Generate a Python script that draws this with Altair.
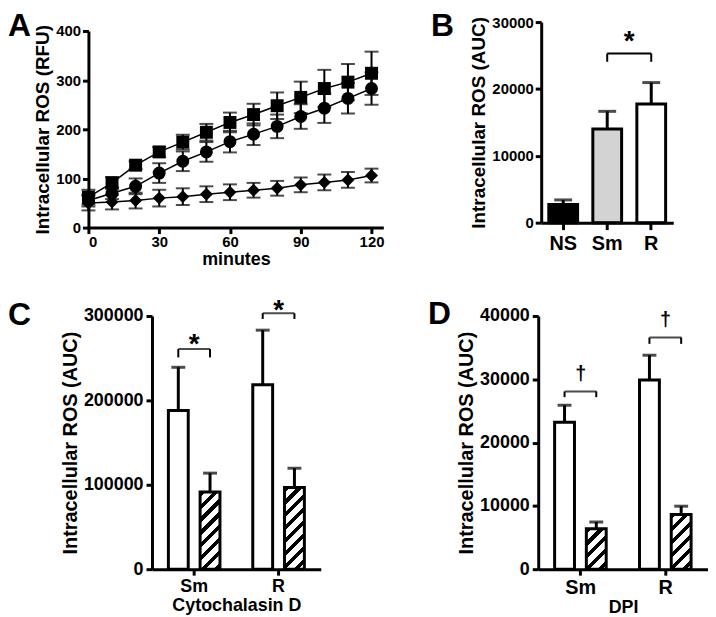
import altair as alt
import pandas as pd

FONT = "Liberation Sans"
INK = "#000000"

# ---------------- Panel A data ----------------
minutes = [0, 10, 20, 30, 40, 50, 60, 70, 80, 90, 100, 110, 120]
sq_mean = [62, 91, 127, 154, 174, 194, 214, 230, 248, 265, 283, 296, 314]
sq_err = [15, 12, 8, 10, 15, 17, 20, 22, 27, 32, 38, 37, 44]
ci_mean = [55, 70, 84, 111, 135, 154, 175, 190, 206, 226, 243, 263, 283]
ci_err = [12, 12, 16, 20, 20, 20, 22, 22, 24, 25, 30, 31, 33]
di_mean = [50, 52, 55, 60, 63, 68, 72, 76, 80, 87, 92, 97, 106]
di_err = [15, 15, 16, 17, 17, 16, 16, 15, 15, 15, 16, 16, 14]
series_names = ["R", "Sm", "NS"]
series_shapes = ["square", "circle", "diamond"]
series_sizes = [170, 170, 64]

# ---------------- Panel B data ----------------
b_cats = ["NS", "Sm", "R"]
b_mean = [2700, 14000, 17750]
b_err = [700, 2650, 3200]
b_fill = ["#000000", "#d3d3d3", "#ffffff"]

# ---------------- Panel C data ----------------
c_cats = ["Sm", "R"]
c_ctrl_mean = [187900, 218500]
c_ctrl_err = [51300, 64700]
c_trt_mean = [91400, 96800]
c_trt_err = [22400, 22800]
c_br_y = [260800, 303200]
c_br_end = [250900, 296500]
c_sym_y = [256000, 297000]

# ---------------- Panel D data ----------------
d_cats = ["Sm", "R"]
d_ctrl_mean = [23200, 29900]
d_ctrl_err = [2700, 3900]
d_trt_mean = [6400, 8650]
d_trt_err = [1050, 1300]
d_br_y = [28080, 36600]
d_br_end = [27180, 35600]
d_sym_y = [29850, 38480]


def axis_kw(label_size, title_size, **kw):
    d = dict(domainColor=INK, domainWidth=3, tickColor=INK, tickWidth=3, tickSize=6,
             labelColor=INK, labelFont=FONT, labelFontWeight="bold",
             titleColor=INK, titleFont=FONT, titleFontWeight="bold", grid=False,
             labelFontSize=label_size, titleFontSize=title_size,
             labelPadding=2, titlePadding=3, zindex=1)
    d.update(kw)
    return d


def letter(txt, x, y):
    return alt.Chart(pd.DataFrame({"t": [txt]})).mark_text(
        align="left", baseline="alphabetic", fontSize=32, fontWeight="bold",
        font=FONT, color=INK).encode(text="t:N", x=alt.value(x), y=alt.value(y))


# ================= Panel A =================
rows = []
for name, m, e in zip(series_names, [sq_mean, ci_mean, di_mean], [sq_err, ci_err, di_err]):
    for t, mv, ev in zip(minutes, m, e):
        rows.append({"series": name, "minute": t, "mean": mv, "lo": mv - ev, "hi": mv + ev})
dfA = pd.DataFrame(rows)

A_YT = "Intracellular ROS (RFU)"
xA = alt.X("minute:Q", scale=alt.Scale(domain=[0, 125], nice=False, zero=False),
           axis=alt.Axis(values=[0, 30, 60, 90, 120], title="minutes",
                         **axis_kw(15, 18, labelPadding=1, titlePadding=1)))


def yA(field):
    return alt.Y(field, scale=alt.Scale(domain=[0, 400], range=[207, 9], nice=False),
                 axis=alt.Axis(values=[0, 100, 200, 300, 400], title=A_YT, format="d",
                               **axis_kw(15, 19)), title=A_YT)


baseA = alt.Chart(dfA)
lineA = baseA.mark_line(color=INK, strokeWidth=1.5).encode(
    x=xA, y=yA("mean:Q"), detail="series:N", order="minute:Q")
ruleA = baseA.mark_rule(color=INK, strokeWidth=2).encode(
    x=xA, y=yA("lo:Q"), y2="hi:Q", detail="series:N")
capLoA = baseA.mark_tick(color=INK, orient="horizontal", size=14, thickness=2).encode(
    x=xA, y=yA("lo:Q"))
capHiA = baseA.mark_tick(color=INK, orient="horizontal", size=14, thickness=2).encode(
    x=xA, y=yA("hi:Q"))
ptsA = baseA.mark_point(filled=True, color=INK, opacity=1).encode(
    x=xA, y=yA("mean:Q"),
    shape=alt.Shape("series:N", scale=alt.Scale(domain=series_names, range=series_shapes), legend=None),
    size=alt.Size("series:N", scale=alt.Scale(domain=series_names, range=series_sizes), legend=None))
panelA = alt.layer(lineA, ruleA, capLoA, capHiA, ptsA, letter("A", -81, 14)).properties(
    width=297, height=207)

# ================= Panel B =================
dfB = pd.DataFrame({"cat": b_cats, "mean": b_mean,
                    "hi": [m + e for m, e in zip(b_mean, b_err)]})
AUC = "Intracellular ROS (AUC)"
axisB = alt.Axis(labelAngle=0, title=None, **axis_kw(20, 19, labelPadding=4, tickSize=7))
scaleB = alt.Scale(domain=b_cats, paddingInner=0, paddingOuter=0)


def xB(field="cat:N"):
    return alt.X(field, sort=b_cats, title=None, scale=scaleB, axis=axisB)


def yB(field):
    return alt.Y(field, scale=alt.Scale(domain=[0, 30000], nice=False), title=AUC,
                 axis=alt.Axis(values=[0, 10000, 20000, 30000], format="d", title=AUC,
                               **axis_kw(15, 19)))


barsB = alt.Chart(dfB).mark_bar(size=29, stroke=INK, strokeWidth=3).encode(
    x=xB(), y=yB("mean:Q"),
    fill=alt.Fill("cat:N", scale=alt.Scale(domain=b_cats, range=b_fill), legend=None))
errB = alt.Chart(dfB).mark_rule(color=INK, strokeWidth=3).encode(
    x=xB(), y=yB("mean:Q"), y2="hi:Q")
capB = alt.Chart(dfB).mark_tick(color=INK, size=18, thickness=3).encode(
    x=xB(), y=yB("hi:Q"))
brB = pd.DataFrame({"a": ["Sm"], "b": ["R"], "y": [25300], "yend": [24060], "sy": [25770], "s": ["*"]})
brHB = alt.Chart(brB).mark_rule(color=INK, strokeWidth=2).encode(
    x=xB("a:N"), x2="b:N", y=yB("y:Q"))
brVB = alt.Chart(pd.DataFrame({"cat": ["Sm", "R"], "y": [25300, 25300], "yend": [24060, 24060]})).mark_rule(
    color=INK, strokeWidth=2).encode(x=xB(), y=yB("yend:Q"), y2="y:Q")
starB = alt.Chart(brB).mark_text(fontSize=28, fontWeight="bold", font=FONT, color=INK, dx=22,
                                 baseline="alphabetic").encode(
    x=xB("a:N"), y=yB("sy:Q"), text="s:N")
panelB = alt.layer(barsB, errB, capB, brHB, brVB, starB, letter("B", -111, 14)).properties(
    width=133, height=202)


# ================= Panels C, D =================
def hatch_gradient(W, H, period=13.0, frac=0.4):
    L = W + H
    dx = W * L / (W * W + H * H)
    dy = H * L / (W * W + H * H)
    p = period / L
    stops = []
    pos = 0.0
    while pos < 1.0:
        a = pos
        b = min(pos + p * frac, 1.0)
        c = min(pos + p, 1.0)
        stops += [(a, INK), (b, INK), (b, "#ffffff"), (c, "#ffffff")]
        pos += p
    return alt.LinearGradient(
        gradient="linear", x1=0, y1=0, x2=dx, y2=dy,
        stops=[alt.GradientStop(offset=round(o, 5), color=col) for o, col in stops])


def bar_panel(cats, cm, ce, tm, te, br_y, br_end, sym_y, sym, ymax, yvals, width, height,
              xrange, yoffset, xtitle, label_sizes, letter_txt, letter_xy, xtitle_size,
              sym_size):
    grp = ["ctrl", "trt"]
    rows = []
    for i, c in enumerate(cats):
        rows.append({"cat": c, "grp": "ctrl", "mean": cm[i], "hi": cm[i] + ce[i], "i": i})
        rows.append({"cat": c, "grp": "trt", "mean": tm[i], "hi": tm[i] + te[i], "i": i})
    df = pd.DataFrame(rows)
    ax_kw = axis_kw(label_sizes[0], xtitle_size, labelPadding=2, titlePadding=2)
    xs = alt.X("cat:N", sort=cats, title=xtitle,
               scale=alt.Scale(domain=cats, range=xrange, paddingInner=0, paddingOuter=0),
               axis=alt.Axis(labelAngle=0, title=xtitle, **ax_kw))
    xo = alt.XOffset("grp:N", sort=grp, scale=alt.Scale(domain=grp, paddingInner=0, paddingOuter=0.33))

    def ys(field):
        kw = axis_kw(label_sizes[1], 20, labelPadding=3, titlePadding=3)
        if yoffset:
            kw["offset"] = yoffset
        return alt.Y(field, scale=alt.Scale(domain=[0, ymax], nice=False), title=AUC,
                     axis=alt.Axis(values=yvals, format="d", title=AUC, **kw))

    base = alt.Chart(df)
    layers = []
    layers.append(base.transform_filter(alt.datum.grp == "ctrl").mark_bar(
        size=20, fill="#ffffff", stroke=INK, strokeWidth=3).encode(x=xs, xOffset=xo, y=ys("mean:Q")))
    for i, c in enumerate(cats):
        H = tm[i] / ymax * height
        layers.append(base.transform_filter((alt.datum.grp == "trt") & (alt.datum.i == i)).mark_bar(
            size=20, fill=hatch_gradient(20, H), stroke=INK, strokeWidth=3).encode(
            x=xs, xOffset=xo, y=ys("mean:Q")))
    layers.append(base.mark_rule(color=INK, strokeWidth=3).encode(
        x=xs, xOffset=xo, y=ys("mean:Q"), y2="hi:Q"))
    layers.append(base.mark_tick(color=INK, size=14, thickness=3).encode(
        x=xs, xOffset=xo, y=ys("hi:Q")))
    dfb = pd.DataFrame({"cat": cats, "y": br_y, "sy": sym_y, "s": [sym] * len(cats)})
    layers.append(alt.Chart(dfb).mark_tick(color=INK, size=32, thickness=2).encode(
        x=xs, y=ys("y:Q")))
    vr = []
    for i, c in enumerate(cats):
        for g in grp:
            vr.append({"cat": c, "grp": g, "y": br_y[i], "yend": br_end[i]})
    layers.append(alt.Chart(pd.DataFrame(vr)).mark_rule(color=INK, strokeWidth=2).encode(
        x=xs, xOffset=xo, y=ys("yend:Q"), y2="y:Q"))
    layers.append(alt.Chart(dfb).mark_text(fontSize=sym_size, fontWeight="bold", font=FONT,
                                           color=INK, baseline="alphabetic").encode(
        x=xs, y=ys("sy:Q"), text="s:N"))
    layers.append(letter(letter_txt, *letter_xy))
    return alt.layer(*layers).properties(width=width, height=height)


panelC = bar_panel(c_cats, c_ctrl_mean, c_ctrl_err, c_trt_mean, c_trt_err, c_br_y, c_br_end,
                   c_sym_y, "*", 300000, [0, 100000, 200000, 300000], 234, 255, [64, 234], -64,
                   "Cytochalasin D", (18, 18), "C", (-81, 9), 18, 28)
panelD = bar_panel(d_cats, d_ctrl_mean, d_ctrl_err, d_trt_mean, d_trt_err, d_br_y, d_br_end,
                   d_sym_y, "\u2020", 40000, [0, 10000, 20000, 30000, 40000], 171, 255, [0, 171], 0,
                   "DPI", (20, 18), "D", (-111, 8), 18, 20)

row1 = alt.hconcat(panelA, panelB, spacing=47)
row2 = alt.hconcat(panelC, panelD, spacing=108)
chart = alt.vconcat(row1, row2, spacing=28).configure(
    font=FONT,
    view=alt.ViewConfig(strokeWidth=0),
    axis=alt.AxisConfig(domainColor=INK, domainWidth=3, tickColor=INK, tickWidth=3,
                        tickSize=6, labelColor=INK, labelFont=FONT, labelFontWeight="bold",
                        titleColor=INK, titleFont=FONT, titleFontWeight="bold", grid=False),
).properties(padding=0, background="white")

chart.save("out.html", embed_options={"renderer": "svg", "actions": False})
